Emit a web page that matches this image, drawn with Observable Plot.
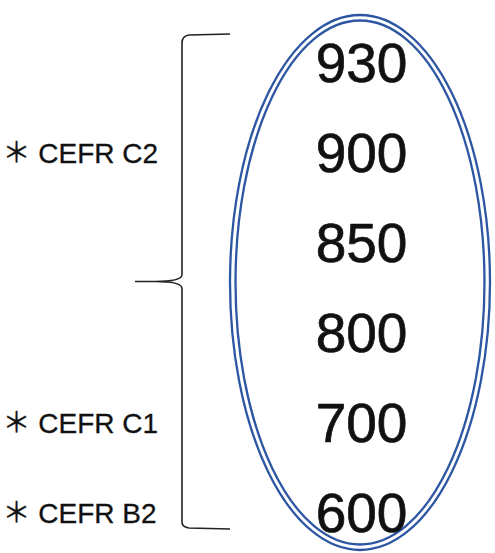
<!DOCTYPE html>
<html>
<head>
<meta charset="utf-8">
<script src="https://cdn.jsdelivr.net/npm/d3@7"></script>
<script src="https://cdn.jsdelivr.net/npm/@observablehq/plot@0.6"></script>
<style>
  html, body { margin: 0; padding: 0; background: #fff; }
  #chart svg { display: block; }
</style>
</head>
<body>
<div id="chart"></div>
<script>
// Scores shown inside the oval (top to bottom)
const scores = ["930", "900", "850", "800", "700", "600"];
// CEFR levels and the score they sit beside
const levels = ["＊ CEFR C2", "＊ CEFR C1", "＊ CEFR B2"];
const levelScores = ["900", "700", "600"];

const levelData = levels.map((label, i) => ({label, score: levelScores[i]}));
const scoreData = scores.map(s => ({score: s}));

const W = 495, H = 553;
const blue = "#2d56a3";

// Decorative oval (double blue outline) drawn through the scales
function oval(index, scales) {
  const g = d3.create("svg:g");
  const cx = scales.x(360);
  const top = scales.y(scores[0]) - 49;
  const bottom = scales.y(scores[scores.length - 1]) + 36;
  const cy = (top + bottom) / 2;
  const ry = (bottom - top) / 2;
  const rx = scales.x(490) - cx;
  for (const d of [0, 5.5]) {
    g.append("ellipse")
      .attr("cx", cx).attr("cy", cy)
      .attr("rx", rx - d).attr("ry", ry - d)
      .attr("fill", "none")
      .attr("stroke", blue)
      .attr("stroke-width", 2.3);
  }
  return g.node();
}

// Curly brace spanning the score range
function brace(index, scales) {
  const x0 = scales.x(182);
  const xr = scales.x(230);
  const xl = scales.x(135);
  const y0 = scales.y(scores[0]) - 30;
  const y1 = scales.y(scores[scores.length - 1]) + 15;
  const ym = (y0 + y1) / 2;
  const r = 7;
  const path = [
    `M${xr},${y0}`,
    `L${x0 + r},${y0 + 1}`,
    `Q${x0},${y0 + 2} ${x0},${y0 + r + 2}`,
    `L${x0},${ym - r}`,
    `Q${x0},${ym} ${xl + 20},${ym}`,
    `L${xl},${ym}`,
    `M${xl + 20},${ym}`,
    `Q${x0},${ym} ${x0},${ym + r}`,
    `L${x0},${y1 - r}`,
    `Q${x0},${y1 - 2} ${x0 + r},${y1 - 1}`,
    `L${xr},${y1}`
  ].join(" ");
  return d3.create("svg:path")
    .attr("d", path)
    .attr("fill", "none")
    .attr("stroke", "#222")
    .attr("stroke-width", 1.6)
    .node();
}

const chart = Plot.plot({
  width: W,
  height: H,
  margin: 0,
  x: {type: "linear", domain: [0, W], range: [0, W], axis: null},
  y: {type: "point", domain: scores, range: [63, 515], padding: 0, axis: null},
  marks: [
    oval,
    brace,
    Plot.text(scoreData, {
      x: () => 361,
      y: "score",
      text: "score",
      fontSize: 55,
      fontFamily: "Liberation Sans, Arial, sans-serif",
      fill: "#111",
      stroke: "#111",
      strokeWidth: 0.7,
      textAnchor: "middle"
    }),
    Plot.text(levelData, {
      x: () => 2,
      y: "score",
      text: "label",
      fontSize: 28,
      fontFamily: "Liberation Sans, Arial, 'Noto Sans CJK JP', sans-serif",
      fill: "#111",
      stroke: "#111",
      strokeWidth: 0.3,
      textAnchor: "start"
    })
  ]
});

document.getElementById("chart").appendChild(chart);
</script>
</body>
</html>
